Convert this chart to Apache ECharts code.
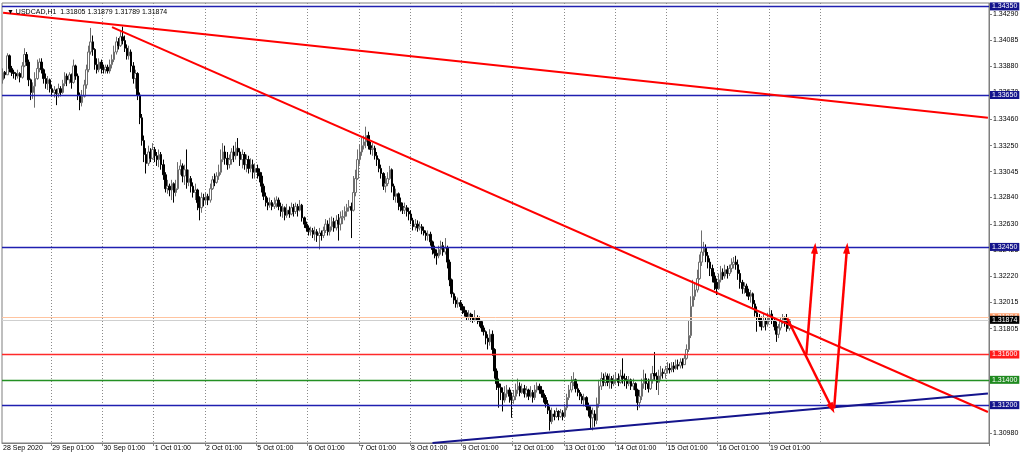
<!DOCTYPE html>
<html>
<head>
<meta charset="utf-8">
<script src="https://cdn.jsdelivr.net/npm/echarts@6.0.0/dist/echarts.min.js"></script>
<style>
html,body{margin:0;padding:0;background:#fff}
#chart{width:1024px;height:457px}
</style>
</head>
<body>
<div id="chart"></div>
<script>
// USDCAD H1, 28 Sep - 19 Oct 2020 (one value per hourly bar, open = previous close)
var days = ['28 Sep','29 Sep','30 Sep','1 Oct','2 Oct','5 Oct','6 Oct','7 Oct','8 Oct','9 Oct',
            '12 Oct','13 Oct','14 Oct','15 Oct','16 Oct','19 Oct','20 Oct','21 Oct','22 Oct','23 Oct'];
var slots = 462;            // bars + empty space on the right
var firstOpen = 1.3377;

var closes = [
 1.3383,1.3381,1.3396,1.3386,1.3383,1.3382,1.3380,1.3382,1.3379,1.3388,1.3397,1.3391,1.3377,1.3367,1.3372,1.3378,1.3386,1.3391,1.3385,1.3378,1.3374,1.3377,1.3370,
 1.3367,1.3369,1.3366,1.3370,1.3367,1.3374,1.3380,1.3377,1.3381,1.3375,1.3388,1.3380,1.3365,1.3359,1.3364,1.3373,1.3385,1.3399,1.3407,1.3401,1.3389,1.3385,1.3391,1.3386,
 1.3385,1.3387,1.3384,1.3389,1.3393,1.3399,1.3407,1.3404,1.3411,1.3408,1.3402,1.3396,1.3399,1.3388,1.3378,1.3382,1.3365,1.3347,1.3329,1.3318,1.3311,1.3320,1.3315,1.3322,
 1.3317,1.3314,1.3318,1.3310,1.3302,1.3291,1.3293,1.3290,1.3295,1.3288,1.3291,1.3306,1.3309,1.3301,1.3306,1.3296,1.3299,1.3293,1.3288,1.3290,1.3280,1.3276,1.3284,1.3282,
 1.3285,1.3282,1.3291,1.3298,1.3296,1.3301,1.3304,1.3314,1.3320,1.3315,1.3310,1.3314,1.3320,1.3317,1.3323,1.3320,1.3314,1.3318,1.3310,1.3314,1.3307,1.3310,1.3304,1.3307,
 1.3304,1.3301,1.3293,1.3285,1.3280,1.3278,1.3280,1.3277,1.3279,1.3282,1.3277,1.3273,1.3276,1.3270,1.3274,1.3271,1.3276,1.3273,1.3277,1.3274,1.3278,1.3268,1.3263,1.3260,
 1.3257,1.3258,1.3255,1.3257,1.3254,1.3256,1.3254,1.3258,1.3263,1.3257,1.3261,1.3265,1.3260,1.3266,1.3263,1.3268,1.3269,1.3273,1.3276,1.3277,1.3274,1.3288,1.3299,1.3314,
 1.3320,1.3325,1.3328,1.3333,1.3325,1.3322,1.3323,1.3317,1.3314,1.3307,1.3303,1.3293,1.3295,1.3299,1.3306,1.3293,1.3285,1.3287,1.3280,1.3277,1.3274,1.3276,1.3273,1.3271,
 1.3266,1.3261,1.3263,1.3260,1.3261,1.3258,1.3256,1.3254,1.3255,1.3249,1.3243,1.3240,1.3238,1.3243,1.3246,1.3241,1.3244,1.3233,1.3219,1.3208,1.3203,1.3200,1.3201,1.3198,
 1.3195,1.3193,1.3190,1.3192,1.3189,1.3187,1.3189,1.3187,1.3186,1.3181,1.3178,1.3173,1.3170,1.3176,1.3164,1.3147,1.3137,1.3134,1.3130,1.3124,1.3129,1.3132,1.3127,1.3124,
 1.3127,1.3132,1.3135,1.3130,1.3133,1.3129,1.3132,1.3127,1.3130,1.3126,1.3132,1.3135,1.3132,1.3129,1.3126,1.3121,1.3116,1.3107,1.3113,1.3111,1.3115,1.3111,1.3114,1.3111,
 1.3118,1.3126,1.3132,1.3138,1.3140,1.3133,1.3130,1.3127,1.3124,1.3126,1.3119,1.3116,1.3110,1.3113,1.3108,1.3121,1.3135,1.3141,1.3138,1.3143,1.3138,1.3141,1.3137,1.3140,
 1.3141,1.3138,1.3143,1.3141,1.3140,1.3137,1.3140,1.3135,1.3137,1.3132,1.3122,1.3127,1.3137,1.3141,1.3137,1.3133,1.3140,1.3145,1.3143,1.3138,1.3143,1.3146,1.3145,1.3148,
 1.3149,1.3148,1.3151,1.3149,1.3152,1.3151,1.3154,1.3152,1.3157,1.3164,1.3175,1.3198,1.3206,1.3211,1.3220,1.3233,1.3241,1.3244,1.3238,1.3233,1.3228,1.3222,1.3217,1.3212,
 1.3219,1.3225,1.3222,1.3227,1.3224,1.3228,1.3231,1.3233,1.3231,1.3224,1.3217,1.3212,1.3214,1.3209,1.3206,1.3208,1.3200,1.3193,1.3189,1.3186,1.3182,1.3187,1.3184,1.3189,
 1.3192,1.3187,1.3182,1.3176,1.3181,1.3186,1.3189,1.3186,1.31805,1.31874
];

var highs = [
 1.3386,1.3384,1.3398,1.3397,1.3388,1.3385,1.3383,1.3385,1.3383,1.3391,1.3402,1.3399,1.3393,1.3378,1.3375,1.3383,1.3393,1.3394,1.3394,1.3386,1.3382,1.3380,1.3378,
 1.3373,1.3372,1.3370,1.3374,1.3372,1.3377,1.3383,1.3382,1.3383,1.3382,1.3393,1.3389,1.3382,1.3367,1.3369,1.3377,1.3389,1.3404,1.3418,1.3412,1.3402,1.3394,1.3394,1.3393,
 1.3389,1.3389,1.3389,1.3393,1.3397,1.3404,1.3411,1.3410,1.3415,1.3419,1.3412,1.3405,1.3404,1.3401,1.3391,1.3385,1.3383,1.3367,1.3350,1.3333,1.3323,1.3325,1.3323,1.3327,
 1.3324,1.3320,1.3322,1.3320,1.3314,1.3304,1.3298,1.3295,1.3298,1.3296,1.3298,1.3312,1.3314,1.3311,1.3310,1.3322,1.3306,1.3301,1.3296,1.3295,1.3291,1.3285,1.3288,1.3287,
 1.3288,1.3287,1.3295,1.3301,1.3303,1.3304,1.3310,1.3322,1.3327,1.3325,1.3320,1.3318,1.3323,1.3325,1.3328,1.3331,1.3323,1.3322,1.3320,1.3318,1.3317,1.3315,1.3314,1.3311,
 1.3310,1.3307,1.3304,1.3295,1.3288,1.3284,1.3284,1.3282,1.3284,1.3285,1.3284,1.3280,1.3279,1.3277,1.3279,1.3277,1.3280,1.3279,1.3280,1.3279,1.3282,1.3279,1.3269,1.3265,
 1.3262,1.3261,1.3260,1.3261,1.3259,1.3260,1.3258,1.3261,1.3267,1.3266,1.3268,1.3269,1.3268,1.3270,1.3271,1.3273,1.3274,1.3277,1.3279,1.3282,1.3280,1.3301,1.3306,1.3322,
 1.3326,1.3331,1.3333,1.3340,1.3336,1.3328,1.3327,1.3325,1.3320,1.3315,1.3310,1.3304,1.3301,1.3304,1.3309,1.3307,1.3295,1.3291,1.3288,1.3284,1.3280,1.3280,1.3278,1.3276,
 1.3274,1.3268,1.3267,1.3266,1.3265,1.3263,1.3261,1.3258,1.3258,1.3257,1.3250,1.3246,1.3243,1.3246,1.3250,1.3249,1.3252,1.3246,1.3235,1.3220,1.3209,1.3206,1.3205,1.3203,
 1.3200,1.3198,1.3195,1.3195,1.3193,1.3192,1.3195,1.3191,1.3190,1.3187,1.3183,1.3179,1.3176,1.3180,1.3179,1.3165,1.3149,1.3141,1.3137,1.3134,1.3135,1.3136,1.3134,1.3130,
 1.3132,1.3137,1.3141,1.3138,1.3137,1.3136,1.3135,1.3133,1.3135,1.3132,1.3136,1.3138,1.3137,1.3135,1.3132,1.3128,1.3124,1.3119,1.3118,1.3116,1.3118,1.3116,1.3117,1.3116,
 1.3121,1.3129,1.3136,1.3143,1.3146,1.3141,1.3137,1.3132,1.3129,1.3129,1.3127,1.3122,1.3119,1.3118,1.3116,1.3126,1.3140,1.3146,1.3145,1.3146,1.3145,1.3145,1.3143,1.3144,
 1.3146,1.3145,1.3148,1.3157,1.3145,1.3143,1.3143,1.3141,1.3141,1.3138,1.3133,1.3132,1.3141,1.3148,1.3145,1.3141,1.3145,1.3151,1.3162,1.3146,1.3148,1.3151,1.3149,1.3151,
 1.3154,1.3153,1.3154,1.3154,1.3156,1.3156,1.3157,1.3157,1.3160,1.3168,1.3187,1.3206,1.3219,1.3216,1.3227,1.3239,1.3258,1.3249,1.3247,1.3241,1.3236,1.3231,1.3225,1.3220,
 1.3224,1.3230,1.3228,1.3231,1.3230,1.3231,1.3236,1.3237,1.3238,1.3235,1.3227,1.3219,1.3217,1.3216,1.3212,1.3211,1.3209,1.3203,1.3198,1.3192,1.3190,1.3192,1.3189,1.3193,
 1.3197,1.3195,1.3189,1.3186,1.3184,1.3189,1.3192,1.3190,1.3192,1.31879
];

var lows = [
 1.3374,1.3378,1.3381,1.3383,1.3380,1.3378,1.3377,1.3378,1.3375,1.3378,1.3387,1.3388,1.3372,1.3361,1.3362,1.3355,1.3377,1.3383,1.3382,1.3374,1.3370,1.3369,1.3367,
 1.3364,1.3363,1.3357,1.3363,1.3364,1.3366,1.3372,1.3372,1.3374,1.3370,1.3374,1.3377,1.3361,1.3353,1.3356,1.3363,1.3370,1.3383,1.3397,1.3396,1.3385,1.3382,1.3383,1.3382,
 1.3382,1.3382,1.3382,1.3382,1.3386,1.3391,1.3397,1.3401,1.3403,1.3405,1.3399,1.3393,1.3393,1.3383,1.3374,1.3370,1.3361,1.3342,1.3325,1.3312,1.3303,1.3309,1.3312,1.3314,
 1.3312,1.3309,1.3308,1.3306,1.3298,1.3288,1.3287,1.3285,1.3282,1.3280,1.3285,1.3290,1.3302,1.3296,1.3294,1.3291,1.3293,1.3288,1.3284,1.3282,1.3274,1.3266,1.3272,1.3277,
 1.3279,1.3278,1.3280,1.3290,1.3293,1.3295,1.3298,1.3302,1.3312,1.3310,1.3306,1.3307,1.3310,1.3312,1.3314,1.3317,1.3309,1.3307,1.3306,1.3304,1.3303,1.3304,1.3299,1.3299,
 1.3299,1.3296,1.3288,1.3282,1.3277,1.3274,1.3276,1.3274,1.3275,1.3276,1.3274,1.3269,1.3268,1.3266,1.3268,1.3268,1.3270,1.3269,1.3271,1.3269,1.3273,1.3265,1.3260,1.3257,
 1.3254,1.3254,1.3252,1.3250,1.3249,1.3243,1.3250,1.3252,1.3256,1.3254,1.3254,1.3258,1.3257,1.3258,1.3250,1.3258,1.3263,1.3266,1.3269,1.3273,1.3252,1.3273,1.3285,1.3298,
 1.3310,1.3317,1.3322,1.3323,1.3322,1.3318,1.3317,1.3314,1.3309,1.3304,1.3299,1.3290,1.3288,1.3293,1.3298,1.3288,1.3282,1.3280,1.3274,1.3273,1.3271,1.3271,1.3269,1.3266,
 1.3263,1.3258,1.3258,1.3257,1.3258,1.3255,1.3254,1.3250,1.3250,1.3246,1.3239,1.3236,1.3231,1.3236,1.3239,1.3238,1.3239,1.3228,1.3214,1.3205,1.3200,1.3197,1.3197,1.3195,
 1.3192,1.3190,1.3187,1.3187,1.3186,1.3185,1.3186,1.3184,1.3182,1.3178,1.3175,1.3168,1.3164,1.3167,1.3159,1.3141,1.3132,1.3118,1.3124,1.3115,1.3122,1.3126,1.3122,1.3110,
 1.3121,1.3124,1.3129,1.3127,1.3129,1.3126,1.3126,1.3124,1.3126,1.3122,1.3124,1.3130,1.3129,1.3126,1.3122,1.3118,1.3113,1.3100,1.3105,1.3108,1.3110,1.3108,1.3110,1.3108,
 1.3110,1.3116,1.3124,1.3130,1.3135,1.3130,1.3127,1.3124,1.3121,1.3119,1.3116,1.3111,1.3102,1.3100,1.3103,1.3105,1.3118,1.3132,1.3135,1.3135,1.3135,1.3133,1.3133,1.3135,
 1.3137,1.3135,1.3137,1.3137,1.3135,1.3133,1.3135,1.3132,1.3132,1.3127,1.3116,1.3118,1.3124,1.3133,1.3132,1.3130,1.3132,1.3137,1.3140,1.3132,1.3128,1.3140,1.3141,1.3141,
 1.3145,1.3145,1.3146,1.3146,1.3148,1.3148,1.3149,1.3149,1.3152,1.3156,1.3162,1.3173,1.3198,1.3203,1.3209,1.3219,1.3230,1.3238,1.3233,1.3228,1.3222,1.3217,1.3211,1.3207,
 1.3211,1.3217,1.3219,1.3220,1.3220,1.3222,1.3225,1.3228,1.3227,1.3219,1.3212,1.3208,1.3208,1.3206,1.3203,1.3201,1.3197,1.3190,1.3178,1.3182,1.3179,1.3181,1.3179,1.3182,
 1.3186,1.3184,1.3179,1.3170,1.3173,1.3179,1.3184,1.3182,1.3178,1.31789
];

var priceTicks = [1.34290,1.34085,1.33880,1.33670,1.33460,1.33250,1.33045,1.32840,1.32630,
                  1.32425,1.32220,1.32015,1.31805,1.30980];

// horizontal levels
var blueLevels = [1.34350, 1.33650, 1.32450, 1.31200];
var redLevel = 1.31600;
var greenLevel = 1.31400;
var bidPrice = 1.31874;
var askPrice = 1.31894;

// drawn objects: [bar index, price, bar index, price]
var redTrends = [[0, 1.34300, 461, 1.33470], [51, 1.34187, 461, 1.31146]];
var blueTrend = [201, 1.30901, 461, 1.31293];
var arrows = [[367, 1.31886, 388, 1.31175], [376, 1.31600, 380, 1.32439], [389, 1.31175, 395, 1.32439]];

var cats = [];
for (var i = 0; i < slots; i++) {
    var d = Math.floor((i + 2) / 24), h = (i + 2) % 24;
    cats.push(days[d] + ' ' + (h < 10 ? '0' + h : h) + ':00');
}
var ohlc = closes.map(function (c, i) {
    return [i === 0 ? firstOpen : closes[i - 1], c, lows[i], highs[i]];
});

function isDayStart(i) { return (i + 2) % 24 === 1; }

function level(v, color, bg, w) {
    return {
        yAxis: v,
        lineStyle: { color: color, width: w, type: 'solid' },
        label: {
            show: true, position: 'end', distance: 1,
            formatter: function () { return v.toFixed(5); },
            color: '#fff', backgroundColor: bg, padding: [1, 2, 0, 2],
            fontSize: 7, fontFamily: 'Liberation Sans'
        }
    };
}
function seg(s, color, width, arrow) {
    return [
        { coord: [s[0], s[1]], symbol: 'none', lineStyle: { color: color, width: width, type: 'solid' }, label: { show: false } },
        { coord: [s[2], s[3]], symbol: arrow ? 'triangle' : 'none', symbolSize: [7, 11] }
    ];
}

var levelData = [];
blueLevels.forEach(function (v) { levelData.push(level(v, '#1f1fb0', '#14148c', 1.3)); });
levelData.push(level(redLevel, '#ff2a2a', '#ff1a1a', 1.3));
levelData.push(level(greenLevel, '#239023', '#1f8a1f', 1.3));
levelData.push(level(askPrice, '#ffc4a0', '#ff9a66', 1));
levelData.push(level(bidPrice, '#cfcfcf', '#000', 1));

var drawData = [];
redTrends.forEach(function (s) { drawData.push(seg(s, '#ff0000', 2, false)); });
drawData.push(seg(blueTrend, '#14148c', 2, false));
arrows.forEach(function (s) { drawData.push(seg(s, '#ff0000', 2.5, true)); });

var chart = echarts.init(document.getElementById('chart'));
chart.setOption({
    animation: false,
    backgroundColor: '#fff',
    textStyle: { fontFamily: 'Liberation Sans' },
    title: {
        text: '▼ USDCAD,H1  1.31805 1.31879 1.31789 1.31874',
        left: 2, top: 4,
        textStyle: { fontSize: 7, fontWeight: 'normal', color: '#000', fontFamily: 'Liberation Sans' }
    },
    grid: {
        left: 2, right: 35, top: 3, bottom: 14,
        show: true, borderColor: '#7f7f7f', borderWidth: 1
    },
    xAxis: {
        type: 'category',
        data: cats,
        boundaryGap: true,
        axisLine: { lineStyle: { color: '#7f7f7f' } },
        axisTick: {
            show: true, length: 3, lineStyle: { color: '#7f7f7f' },
            interval: function (i) { return isDayStart(i) && i < closes.length; }
        },
        axisLabel: {
            color: '#000', fontSize: 7, align: 'left', margin: 2,
            interval: function (i) { return i === 0 || (isDayStart(i) && i < closes.length); },
            formatter: function (v, i) { return i === 0 ? '28 Sep 2020' : v; }
        },
        splitLine: {
            show: true,
            interval: function (i) { return isDayStart(i) && i <= 383; },
            lineStyle: { color: '#8a8a8a', type: [1, 2], width: 1 }
        }
    },
    yAxis: {
        type: 'value',
        position: 'right',
        min: 1.30901, max: 1.34377,
        scale: true,
        axisLine: { show: true, lineStyle: { color: '#7f7f7f' } },
        axisTick: { show: true, length: 3, customValues: priceTicks, lineStyle: { color: '#7f7f7f' } },
        axisLabel: {
            color: '#000', fontSize: 7, margin: 4, customValues: priceTicks,
            formatter: function (v) { return v.toFixed(5); }
        },
        splitLine: { show: false }
    },
    series: [{
        type: 'candlestick',
        data: ohlc,
        barWidth: 2,
        itemStyle: {
            color: '#ffffff', color0: '#000000',
            borderColor: '#6e6e6e', borderColor0: '#000000', borderWidth: 1
        }
    }, {
        type: 'line',
        data: [],
        silent: true,
        markLine: {
            silent: true, symbol: 'none', animation: false, precision: 5,
            data: levelData
        }
    }, {
        type: 'line',
        data: [],
        silent: true,
        markLine: {
            silent: true, symbol: 'none', animation: false, precision: 5,
            data: drawData
        }
    }]
});
</script>
</body>
</html>
